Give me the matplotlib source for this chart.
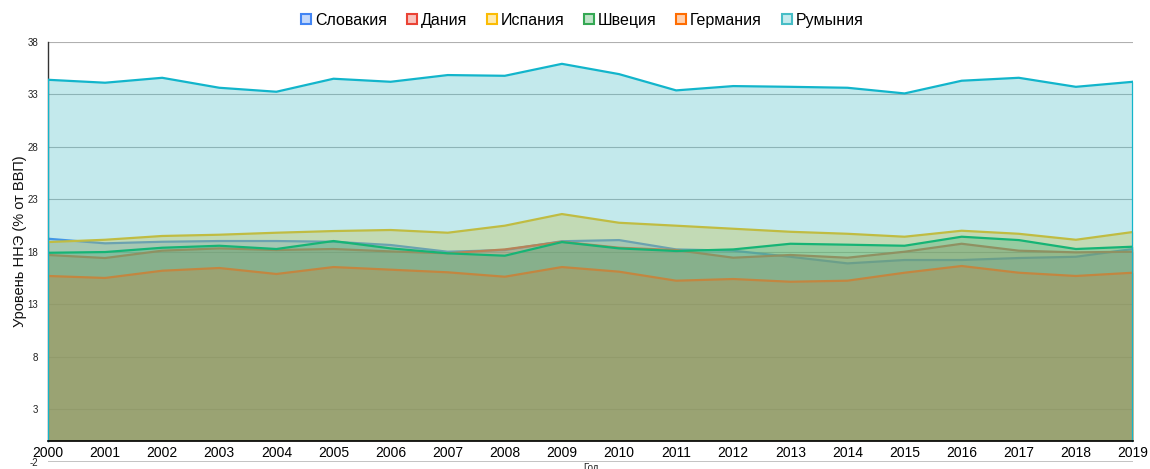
import matplotlib
matplotlib.use("Agg")
import matplotlib.pyplot as plt
from matplotlib.lines import Line2D
from matplotlib.colors import to_rgb

plt.rcParams['font.family'] = ['Liberation Sans', 'DejaVu Sans']

# ============ Data ============

years = list(range(2000, 2020))

slovakia = [19.24, 18.8, 18.95, 19.02, 19.02, 18.95, 18.64, 18.0, 18.16, 19.0,
            19.11, 18.22, 18.1, 17.52, 16.89, 17.21, 17.21, 17.4, 17.52, 18.26]
denmark = [17.69, 17.4, 18.1, 18.32, 18.16, 18.26, 18.03, 17.85, 18.22, 18.95,
           18.38, 18.16, 17.43, 17.69, 17.43, 18.0, 18.76, 18.1, 17.94, 18.0]
spain = [18.92, 19.14, 19.5, 19.62, 19.81, 19.97, 20.07, 19.81, 20.48, 21.59,
         20.76, 20.48, 20.19, 19.9, 19.71, 19.43, 20.0, 19.71, 19.14, 19.88]
sweden = [17.9, 17.97, 18.38, 18.57, 18.26, 19.02, 18.32, 17.85, 17.62, 18.92,
          18.32, 18.07, 18.22, 18.76, 18.67, 18.57, 19.43, 19.11, 18.26, 18.48]
germany = [15.69, 15.5, 16.19, 16.45, 15.88, 16.54, 16.29, 16.04, 15.62, 16.54,
           16.1, 15.24, 15.4, 15.14, 15.24, 16.0, 16.64, 16.0, 15.69, 16.0]
romania = [34.38, 34.1, 34.57, 33.62, 33.24, 34.48, 34.19, 34.83, 34.76, 35.9,
           34.92, 33.37, 33.78, 33.71, 33.62, 33.08, 34.29, 34.57, 33.71, 34.19]

names = ["Словакия", "Дания", "Испания", "Швеция", "Германия", "Румыния"]
series = [slovakia, denmark, spain, sweden, germany, romania]
colors = ["#4285f4", "#ea4335", "#fbbc04", "#34a853", "#ff6d01", "#46bdc6"]
line_colors = ["#4285f4", "#ea4335", "#fbbc04", "#00b050", "#ff6d01", "#12b5cb"]

y_ticks = list(range(-2, 39, 5))

# ============ Plot ============

fig = plt.figure(figsize=(11.5, 4.69), dpi=100)
ax = fig.add_axes([0.0417, 0.0156, 0.9435, 0.8953])

for i, (vals, c, lc) in enumerate(zip(series, colors, line_colors)):
    ax.fill_between(years, 0, vals, color=c, alpha=0.32, linewidth=0, zorder=2 * i + 1)
    ax.plot(years, vals, color=lc, lw=1.6, zorder=2 * i + 2)

# edges of the top area
ax.plot([years[0], years[0]], [0, romania[0]], color="#12b5cb", lw=1.6, zorder=12)
ax.plot([years[-1], years[-1]], [0, romania[-1]], color="#12b5cb", lw=1.6, zorder=12)

ax.set_xlim(years[0], years[-1])
ax.set_ylim(-2, 38)
ax.set_yticks(y_ticks)
ax.set_xticks(years)
ax.set_xticklabels([str(y) for y in years], fontsize=9.5, color="#222222")
ax.set_yticklabels([str(v) for v in y_ticks], fontsize=7, color="#222222")
ax.tick_params(axis="both", length=0)
ax.tick_params(axis="x", pad=4)
ax.tick_params(axis="y", pad=7)

ax.grid(axis="y", color="#b0b0b0", lw=0.8, zorder=0)
ax.set_axisbelow(True)

for s in ["top", "right"]:
    ax.spines[s].set_visible(False)
ax.spines["bottom"].set_position(("data", 0))
ax.spines["bottom"].set_color("black")
ax.spines["bottom"].set_linewidth(1.2)
ax.spines["bottom"].set_zorder(20)
ax.spines["left"].set_color("#333333")
ax.spines["left"].set_linewidth(1.0)
ax.spines["left"].set_bounds(0, 38)
ax.axhline(-2, color="#bbbbbb", lw=1.2, zorder=0)

ax.set_ylabel("Уровень ННЭ (% от ВВП)", fontsize=10.5, color="#111111")
ax.yaxis.set_label_coords(-0.019, 0.525)
fig.text(0.5135, 0.003, "Год", fontsize=7, ha="center", va="center", color="#222222")

handles = []
for c in colors:
    r, g, b = to_rgb(c)
    face = (1 - 0.32 * (1 - r), 1 - 0.32 * (1 - g), 1 - 0.32 * (1 - b))
    handles.append(Line2D([], [], linestyle="none", marker="s", markersize=7,
                          markerfacecolor=face, markeredgecolor=c, markeredgewidth=1.5))
fig.legend(handles, names, loc="center", bbox_to_anchor=(0.505, 0.957), ncol=6,
           frameon=False, fontsize=11.5, handletextpad=0.05, columnspacing=1.05,
           handlelength=1.0)

fig.savefig("out.png", dpi=100)
